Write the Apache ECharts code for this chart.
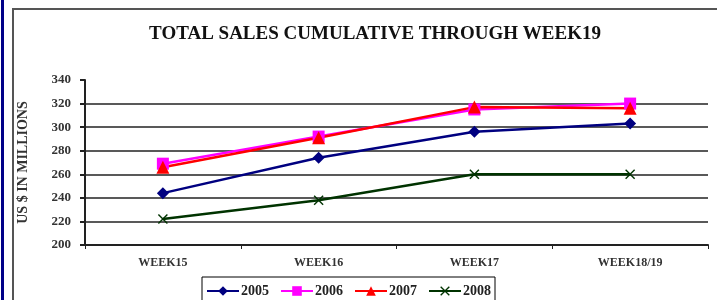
<!DOCTYPE html>
<html>
<head>
<meta charset="utf-8">
<script src="https://cdn.jsdelivr.net/npm/echarts@6/dist/echarts.min.js"></script>
<style>
  html, body { margin: 0; padding: 0; background: #fff; }
  #chart { width: 717px; height: 300px; }
</style>
</head>
<body>
<div id="chart"></div>
<script>
var weeks = ['WEEK15', 'WEEK16', 'WEEK17', 'WEEK18/19']
var sales2005 = [244, 274, 296, 303]
var sales2006 = [269, 292, 315, 320]
var sales2007 = [266, 291, 317, 316]
var sales2008 = [222, 238, 260, 260]
var yTicks = [200, 340, 20]

var serif = '"Liberation Serif", "DejaVu Serif", serif'
// x marker for 2008
var crossPath = 'path://M0,1L1,0L5,4L9,0L10,1L6,5L10,9L9,10L5,6L1,10L0,9L4,5Z'

function lineSeries (name, data, color, symbol, size) {
  return {
    name: name,
    type: 'line',
    data: data,
    symbol: symbol,
    symbolSize: size,
    lineStyle: { color: color, width: 2.5 },
    itemStyle: { color: color },
    animation: false
  }
}

var chart = echarts.init(document.getElementById('chart'))
chart.setOption({
  title: {
    text: 'TOTAL SALES CUMULATIVE THROUGH WEEK19',
    left: 370,
    textAlign: 'center',
    top: 20,
    textStyle: { fontFamily: serif, fontWeight: 'bold', fontSize: 19, color: '#111' }
  },
  graphic: [
    { type: 'rect', shape: { x: 1, y: 0, width: 3, height: 300 }, style: { fill: '#000088' }, silent: true },
    { type: 'rect', shape: { x: 13, y: 9, width: 720, height: 310 }, style: { fill: 'none', stroke: '#555', lineWidth: 2 }, silent: true }
  ],
  legend: {
    left: 202,
    top: 277,
    width: 303,
    itemWidth: 32,
    itemHeight: 12,
    itemGap: 11,
    padding: [7, 4, 10, 4],
    borderColor: '#000',
    borderWidth: 1,
    textStyle: { fontFamily: serif, fontWeight: 'bold', fontSize: 14, color: '#222', padding: [0, 0, 0, -3] },
    data: ['2005', '2006', '2007', '2008']
  },
  grid: { left: 85, right: 9, top: 80, bottom: 55 },
  xAxis: {
    type: 'category',
    data: weeks,
    boundaryGap: true,
    axisLine: { lineStyle: { color: '#222', width: 2 } },
    axisTick: { show: true, length: 4, interval: 0, lineStyle: { color: '#222' } },
    axisLabel: { fontFamily: serif, fontWeight: 'bold', fontSize: 12, color: '#333', margin: 12 }
  },
  yAxis: {
    type: 'value',
    min: yTicks[0],
    max: yTicks[1],
    interval: yTicks[2],
    name: 'US $ IN MILLIONS',
    nameLocation: 'middle',
    nameRotate: 90,
    nameGap: 55,
    nameTextStyle: { fontFamily: serif, fontWeight: 'bold', fontSize: 14, color: '#333' },
    axisLine: { show: true, lineStyle: { color: '#222', width: 2 } },
    axisTick: { show: true, length: 5, lineStyle: { color: '#222', width: 2 } },
    axisLabel: { fontFamily: serif, fontWeight: 'bold', fontSize: 13, color: '#333', margin: 14 },
    splitLine: {
      show: true,
      lineStyle: {
        color: ['#222', '#222', '#222', '#222', '#222', '#222', '#222', 'rgba(0,0,0,0)'],
        width: 1.5
      }
    }
  },
  series: [
    lineSeries('2005', sales2005, '#000080', 'diamond', 12),
    lineSeries('2006', sales2006, '#ff00ff', 'rect', 12),
    lineSeries('2007', sales2007, '#ff0000', 'triangle', 13),
    lineSeries('2008', sales2008, '#003300', crossPath, 10)
  ]
})
</script>
</body>
</html>
